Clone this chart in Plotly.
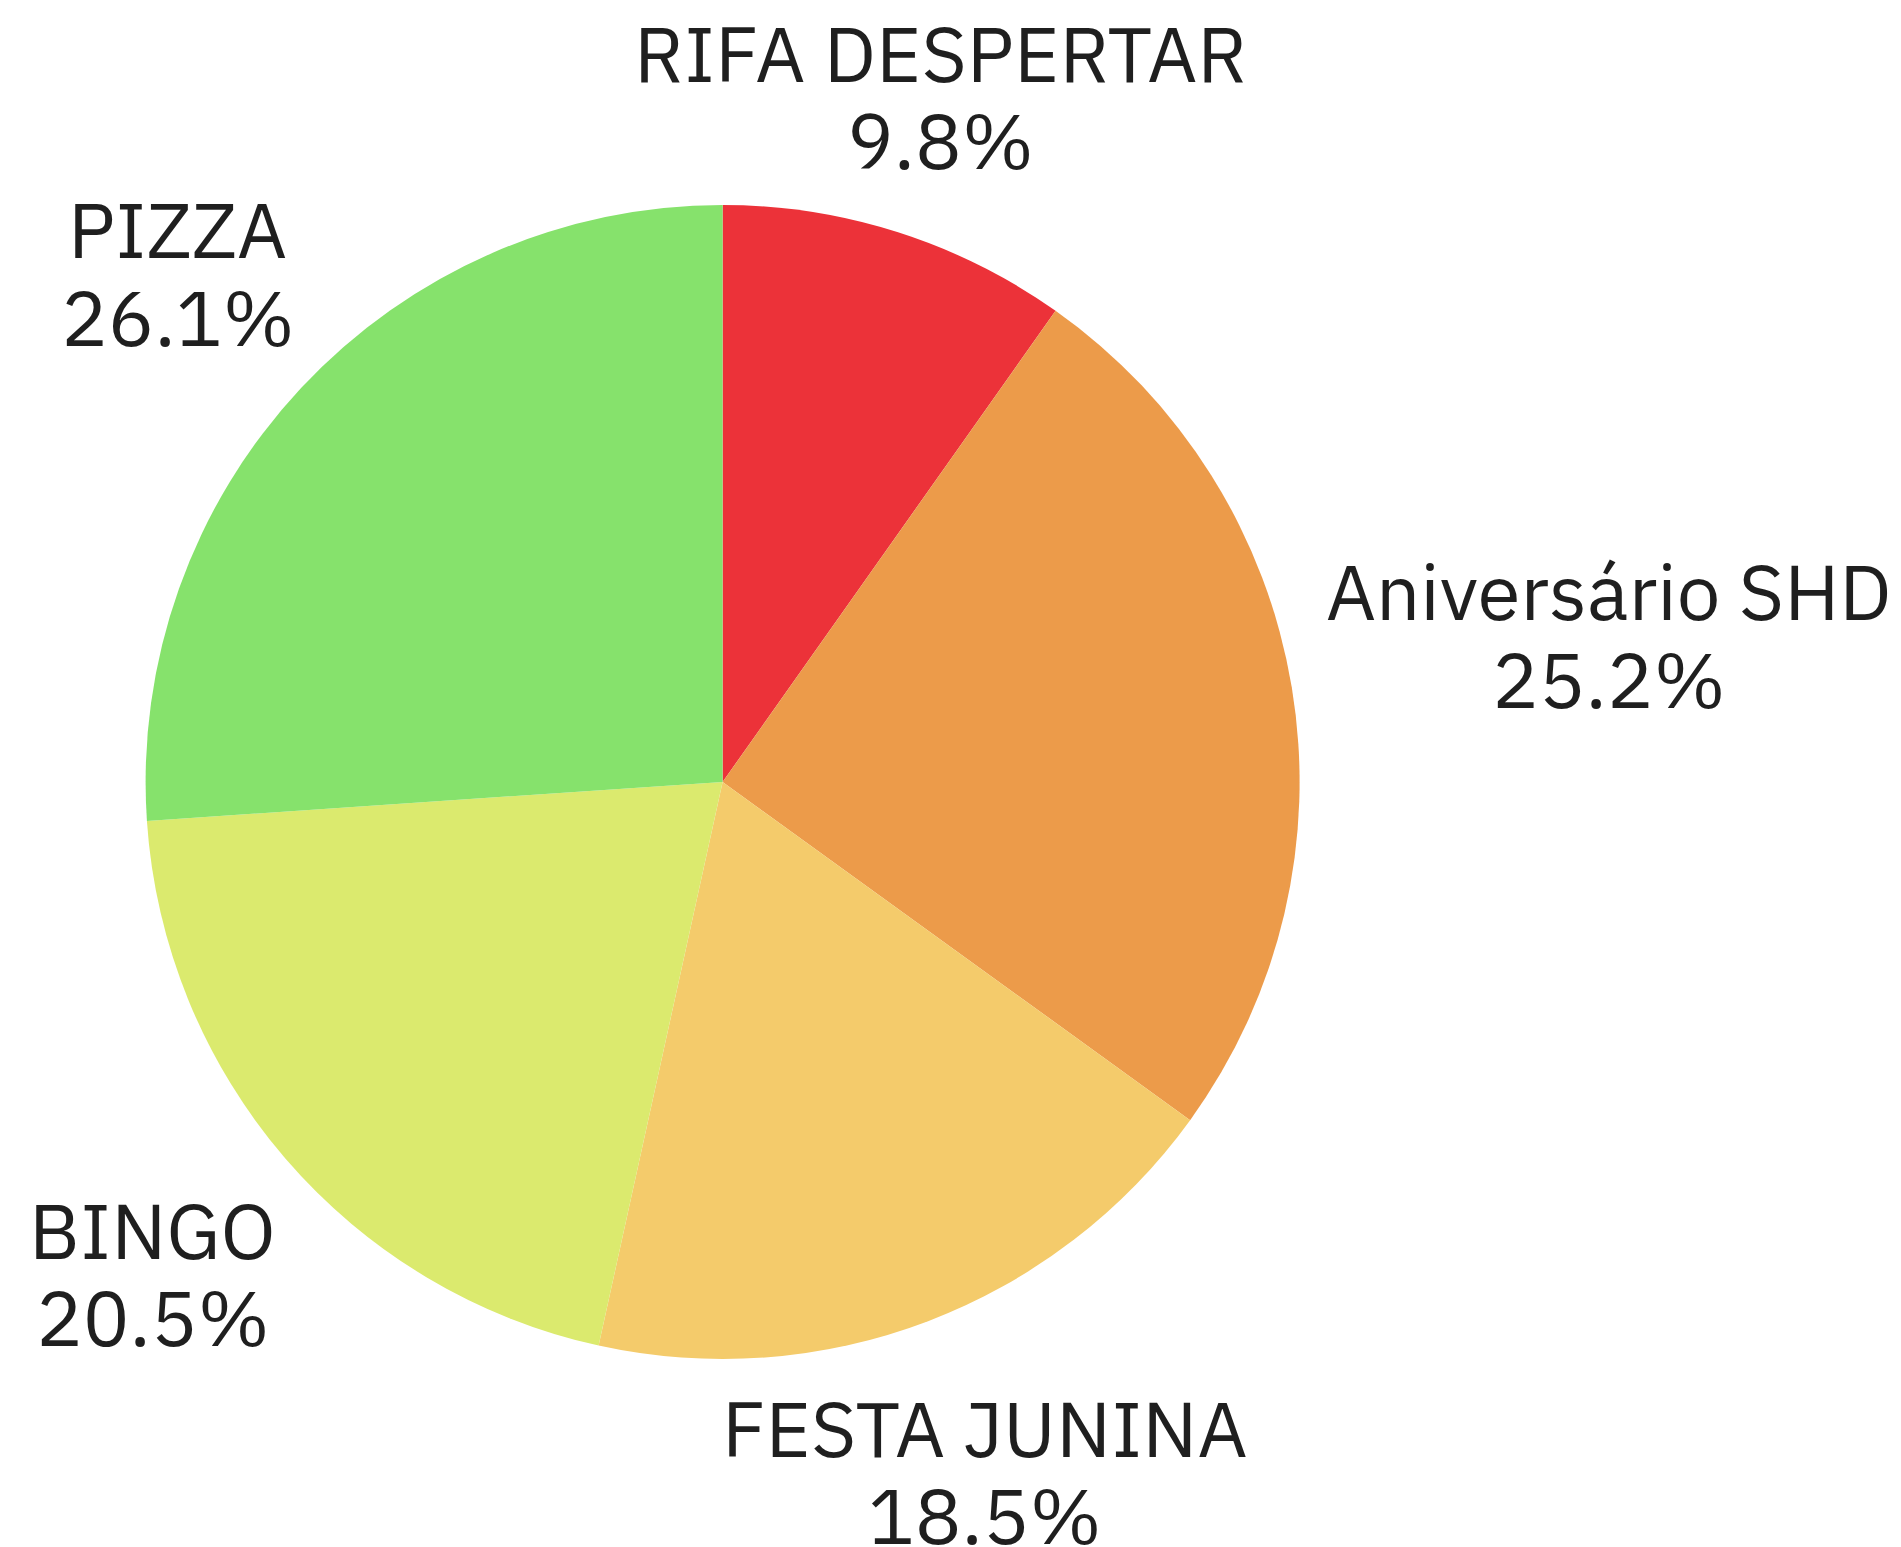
import math
import plotly.graph_objects as go

labels = ["RIFA DESPERTAR", "Aniversário SHD", "FESTA JUNINA", "BINGO", "PIZZA"]
values = [9.8, 25.2, 18.5, 20.5, 26.1]
colors = ["#EC3239", "#EC9B4A", "#F4CB6B", "#DBEA6E", "#86E26C"]

# layout (pixels within the figure div)
W, H = 1901, 1547
cx, cy, r = 714.6, 774.0, 577.0
label_dist = [720, 899, 737, 752, 746]   # radial distance of each label block centre
line_half = 43.6                          # half the distance between the two text lines
FONT = "IBM Plex Sans, Inter, Noto Sans, sans-serif"
FS = 78

fig = go.Figure(go.Pie(
    labels=labels,
    values=values,
    sort=False,
    direction="clockwise",
    rotation=0,
    marker=dict(colors=colors, line=dict(width=0)),
    textinfo="none",
    domain=dict(x=[(cx - r) / W, (cx + r) / W], y=[(H - cy - r) / H, (H - cy + r) / H]),
    showlegend=False,
    hoverinfo="skip",
))

total = sum(values)
cum = 0.0
annotations = []
for lab, v, d in zip(labels, values, label_dist):
    mid = (cum + v / 2) / total * 2 * math.pi
    cum += v
    bx = cx + d * math.sin(mid)
    by = cy - d * math.cos(mid)
    pct = f"{v / total * 100:.1f}%"
    for txt, dy in ((lab, -line_half), (pct, line_half)):
        annotations.append(dict(
            x=bx / W, y=1 - (by + dy) / H, xref="paper", yref="paper",
            text=txt, showarrow=False, xanchor="center", yanchor="middle",
            font=dict(size=FS, color="#1f1f1f", family=FONT),
        ))

fig.update_layout(
    width=W, height=H,
    margin=dict(l=0, r=0, t=0, b=0),
    paper_bgcolor="white", plot_bgcolor="white",
    annotations=annotations,
)
fig.write_html("out.html")
